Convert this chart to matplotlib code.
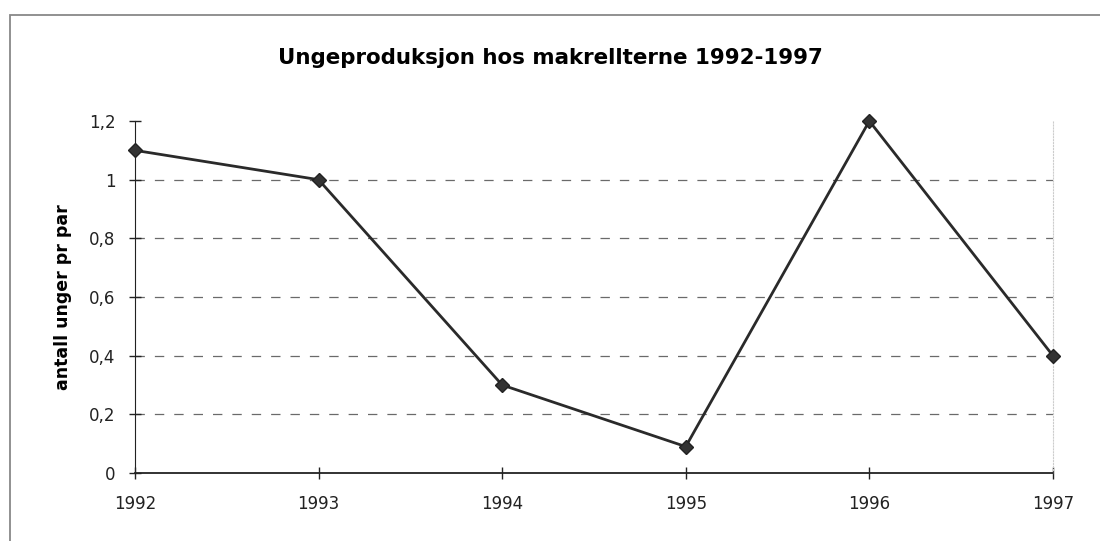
import matplotlib.pyplot as plt
from matplotlib.patches import Rectangle

years = [1992, 1993, 1994, 1995, 1996, 1997]
unger = [1.1, 1.0, 0.3, 0.09, 1.2, 0.4]
yticks = [0, 0.2, 0.4, 0.6, 0.8, 1.0, 1.2]
ytick_labels = ['0', '0,2', '0,4', '0,6', '0,8', '1', '1,2']

plt.rcParams['font.family'] = ['DejaVu Sans']

fig = plt.figure(figsize=(11, 5.41), dpi=100)
ax = fig.add_axes([0.1227, 0.1257, 0.8345, 0.6506])

# grey frame round the chart, runs off the right and bottom edge
fig.patches.append(Rectangle((0.009, -0.05), 1.05, 1.022, transform=fig.transFigure,
                             fill=False, edgecolor='#888888', linewidth=1.3))

ax.plot(years, unger, color='#2a2a2a', linewidth=2, marker='D', markersize=7,
        markerfacecolor='#333333', markeredgecolor='#222222', zorder=3, clip_on=False)

ax.set_xlim(1992, 1997)
ax.set_ylim(0, 1.2)
ax.set_xticks(years)
ax.set_yticks(yticks)
ax.set_yticklabels(ytick_labels)

for y in yticks[1:-1]:
    ax.axhline(y, color='#6a6a6a', linewidth=0.9, linestyle=(0, (7.5, 8)), zorder=1)

ax.spines['top'].set_visible(False)
ax.spines['right'].set_color('#cccccc')
ax.spines['right'].set_linestyle(':')
ax.spines['left'].set_color('#222222')
ax.spines['bottom'].set_color('#222222')
ax.spines['bottom'].set_linewidth(1.3)
ax.tick_params(direction='inout', length=8, width=1, colors='#222222', labelsize=12)
ax.tick_params(axis='x', pad=12)
ax.tick_params(axis='y', pad=10)

ax.set_ylabel('antall unger pr par', fontsize=12.5, fontweight='bold', labelpad=12)
fig.text(0.5, 0.893, 'Ungeproduksjon hos makrellterne 1992-1997', ha='center',
         va='center', fontsize=15.4, fontweight='bold')

fig.savefig('out.png')
plt.close()
